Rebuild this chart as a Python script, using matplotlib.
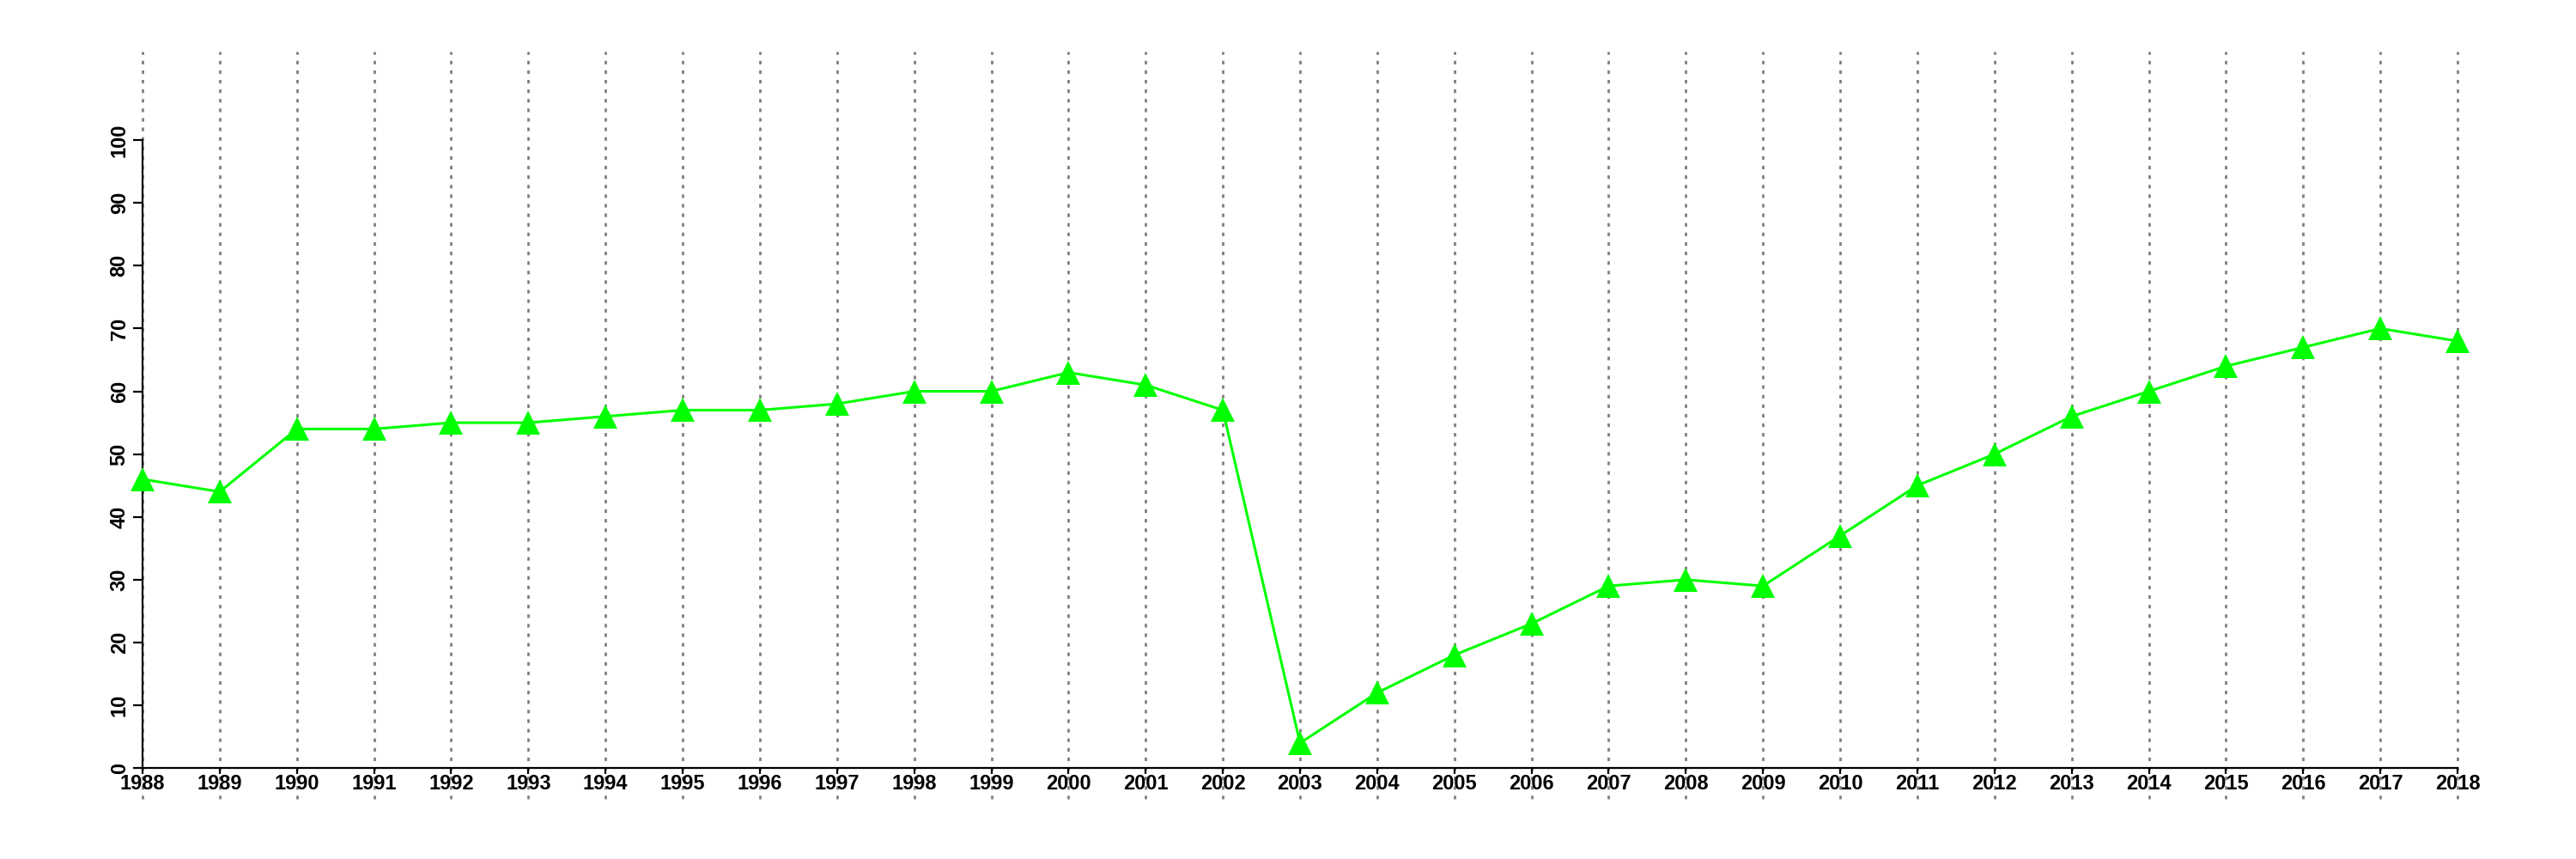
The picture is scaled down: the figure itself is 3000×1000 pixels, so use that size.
import matplotlib
matplotlib.use("Agg")
import matplotlib.pyplot as plt

years = list(range(1988, 2019))
values = [46, 44, 54, 54, 55, 55, 56, 57, 57, 58, 60, 60, 63, 61, 57,
          4, 12, 18, 23, 29, 30, 29, 37, 45, 50, 56, 60, 64, 67, 70, 68]
y_ticks = list(range(0, 101, 10))

plt.rcParams['font.family'] = ['Liberation Sans', 'DejaVu Sans']

fig = plt.figure(figsize=(30, 10), dpi=100)
# plot region in figure fraction (left, bottom, width, height)
ax = fig.add_axes([166 / 3000, 0.07, (2862 - 166) / 3000, 0.87])

# dotted vertical grid at every year
for yr in years:
    ax.axvline(yr, color='#808080', lw=2.0, linestyle=(0, (1.5, 2.5)),
               zorder=1, clip_on=False)

ax.plot(years, values, color='#00ff00', lw=2.2, marker='^', markersize=20,
        markeredgewidth=0, zorder=3, clip_on=False)

ax.set_xlim(1988, 2018)
ax.set_ylim(-4.9, 114.1)

# axes drawn like R: at y=0 and x=1988, only across the tick range
for side in ['top', 'right']:
    ax.spines[side].set_visible(False)
ax.spines['bottom'].set_position(('data', 0))
ax.spines['left'].set_position(('data', 1988))
ax.spines['bottom'].set_bounds(1988, 2018)
ax.spines['left'].set_bounds(0, 100)
ax.spines['bottom'].set_linewidth(1.6)
ax.spines['left'].set_linewidth(1.6)
ax.spines['bottom'].set_zorder(2)
ax.spines['left'].set_zorder(2)

ax.set_xticks(years)
ax.set_xticklabels([str(y) for y in years], fontsize=17, fontweight='bold')
ax.set_yticks(y_ticks)
ax.set_yticklabels([str(v) for v in y_ticks], fontsize=17, fontweight='bold',
                   rotation=90, va='center')
ax.tick_params(axis='x', length=5, width=1.6, pad=0)
ax.tick_params(axis='y', length=8, width=1.6, pad=3)

fig.savefig('out.png', dpi=100)
